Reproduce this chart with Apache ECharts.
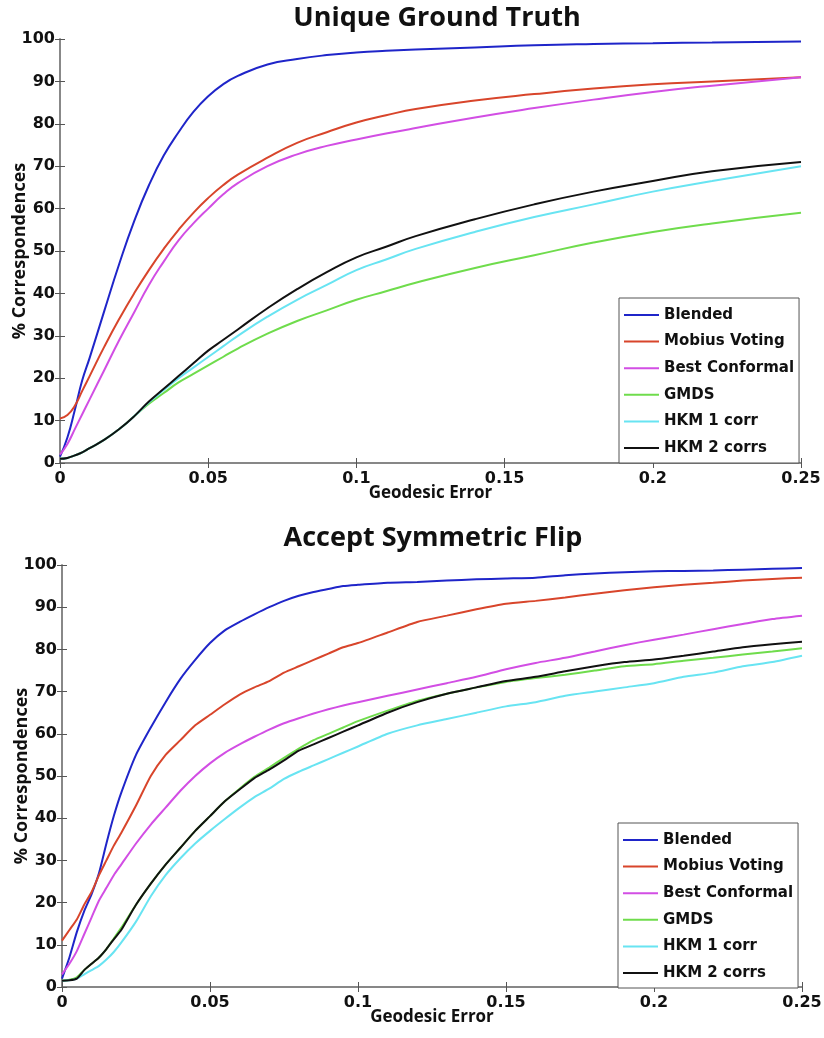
<!DOCTYPE html>
<html>
<head>
<meta charset="utf-8">
<script src="https://cdn.jsdelivr.net/npm/echarts@6/dist/echarts.min.js"></script>
<style>
html,body{margin:0;padding:0;background:#fff;}
#chart{width:824px;height:1038px;}
</style>
</head>
<body>
<div id="chart"></div>
<script>
// ---------- data ----------
const seriesNames = ['Blended', 'Mobius Voting', 'Best Conformal', 'GMDS', 'HKM 1 corr', 'HKM 2 corrs'];
const xTickLabels = ['0', '0.05', '0.1', '0.15', '0.2', '0.25'];
const yTickLabels = ['0','10','20','30','40','50','60','70','80','90','100'];

// Top panel: Unique Ground Truth
const topX = [0,0.0025,0.005,0.0075,0.01,0.015,0.02,0.025,0.03,0.035,0.04,0.045,0.05,0.055,0.06,0.07,0.08,0.09,0.1,0.11,0.12,0.14,0.16,0.18,0.2,0.22,0.25];
const topBlended  = [1.5,6,12.5,19.5,24.8,36,47,57,65.5,72.5,78,82.8,86.5,89.3,91.3,94,95.3,96.2,96.8,97.2,97.5,98,98.5,98.8,99,99.2,99.4];
const topMobius   = [10.5,11.3,13.5,17,20.5,27.5,34,40,45.5,50.5,55,59,62.5,65.5,68,72,75.5,78,80.3,82,83.5,85.5,87,88.3,89.3,90,91];
const topBest     = [2,4.5,8,11.5,15,22,29,35.5,42,47.5,52.5,56.5,60,63.3,66,70,72.8,74.8,76.3,77.7,79,81.5,83.7,85.7,87.5,89,91];
const topGMDS     = [1,1.2,1.8,2.5,3.5,5.5,8,11,14,16.5,19,21,23,25,27,30.5,33.5,36,38.5,40.5,42.5,46,49,52,54.5,56.5,59];
const topHKM1     = [1,1.2,1.8,2.5,3.5,5.5,8,11,14.3,17.2,20,22.5,25,27.5,30,34.5,38.5,42,45.5,48,50.5,54.5,58,61,64,66.5,70];
const topHKM2     = [1,1.2,1.8,2.5,3.5,5.5,8,11,14.5,17.5,20.5,23.5,26.5,29,31.5,36.5,41,45,48.5,51,53.5,57.5,61,64,66.5,68.8,71];

// Bottom panel: Accept Symmetric Flip
const botX = [0,0.0025,0.005,0.0075,0.01,0.0125,0.015,0.0175,0.02,0.025,0.03,0.035,0.04,0.045,0.05,0.055,0.06,0.065,0.07,0.075,0.08,0.085,0.09,0.095,0.1,0.11,0.12,0.13,0.14,0.15,0.16,0.17,0.18,0.19,0.2,0.21,0.22,0.23,0.24,0.25];
const botBlended = [2,7,13,18,22,27,34,40.5,46,55,61.5,67.5,73,77.5,81.5,84.5,86.5,88.3,90,91.5,92.7,93.6,94.3,95,95.3,95.8,96,96.3,96.6,96.8,97,97.6,98,98.3,98.5,98.6,98.7,98.9,99.1,99.3];
const botMobius  = [11,13.5,16,19.5,22.5,26.5,30,33.5,36.5,43,50,55,58.5,62,64.5,67,69.3,71,72.5,74.5,76,77.5,79,80.5,81.5,84,86.5,88,89.5,90.8,91.5,92.3,93.2,94,94.7,95.3,95.8,96.3,96.7,97];
const botBest    = [3,5.5,8.5,12.5,16.5,20.5,23.5,26.5,29,34,38.5,42.5,46.5,50,53,55.5,57.5,59.3,61,62.5,63.7,64.8,65.8,66.7,67.5,69,70.5,72,73.5,75.3,76.8,78,79.5,81,82.3,83.5,84.8,86,87.2,88];
const botGMDS    = [1.5,1.7,2.3,4,5.5,7,9,11.5,14,19.5,24.5,29,33,37,40.5,44,47,49.8,52,54.3,56.5,58.5,60,61.5,63,65.5,67.8,69.5,71,72.3,73.2,74,75,76,76.5,77.3,78,78.8,79.5,80.3];
const botHKM1    = [1.5,1.6,2,3,4,5,6.5,8.3,10.5,15.5,21.5,26.5,30.5,34,37,39.8,42.5,45,47,49.3,51,52.5,54,55.5,57,60,62,63.5,65,66.5,67.5,69,70,71,72,73.5,74.5,76,77,78.5];
const botHKM2    = [1.5,1.6,2,4,5.5,7,9,11.3,13.5,19.5,24.5,29,33,37,40.5,44,46.8,49.5,51.5,53.7,56,57.5,59,60.5,62,65,67.5,69.5,71,72.5,73.5,74.8,76,77,77.6,78.5,79.5,80.5,81.2,81.8];

const colors = ['#1f25c9', '#d8452b', '#d24ee4', '#6fdc4c', '#68e4f2', '#111111'];

// ---------- chart ----------
const chart = echarts.init(document.getElementById('chart'), null, {renderer: 'canvas'});
const tickFont = {fontFamily: 'DejaVu Sans', fontWeight: 'bold', fontSize: 16, color: '#111'};
const nameFont = {fontFamily: 'Open Sans', fontWeight: 'bold', fontSize: 17, color: '#111'};
const axisCol = '#808080';

const grids = [
  {left: 60, top: 39, width: 741, height: 424, outerBoundsMode: 'none'},
  {left: 62, top: 565, width: 740, height: 422, outerBoundsMode: 'none'}
];

function xLabel(v) { return xTickLabels[Math.round(v / 0.05)]; }
function yLabel(v) { return yTickLabels[Math.round(v / 10)]; }

const xAxes = [], yAxes = [];
for (let g = 0; g < 2; g++) {
  xAxes.push({
    type: 'value', gridIndex: g, min: 0, max: 0.25, interval: 0.05, position: 'bottom',
    name: 'Geodesic Error', nameLocation: 'middle', nameGap: 22, nameMoveOverlap: false,
    nameTextStyle: nameFont,
    axisLine: {show: true, lineStyle: {color: axisCol, width: 1.5}},
    axisTick: {show: true, inside: true, length: 5, lineStyle: {color: '#555'}},
    axisLabel: Object.assign({margin: 8, formatter: xLabel}, tickFont),
    splitLine: {show: false}
  });
  xAxes.push({
    type: 'value', gridIndex: g, min: 0, max: 0.25, interval: 0.05, position: 'top',
    axisLine: {show: true, lineStyle: {color: axisCol, width: 1.5}},
    axisTick: {show: true, inside: true, length: 5, lineStyle: {color: '#555'}},
    axisLabel: {show: false}, splitLine: {show: false}
  });
  yAxes.push({
    type: 'value', gridIndex: g, min: 0, max: 100, interval: 10, position: 'left',
    name: '% Correspondences', nameLocation: 'middle', nameGap: 31, nameRotate: 90, nameMoveOverlap: false,
    nameTextStyle: Object.assign({}, nameFont, {fontSize: 18}),
    axisLine: {show: true, lineStyle: {color: axisCol, width: 1.5}},
    axisTick: {show: true, inside: true, length: 5, lineStyle: {color: '#555'}},
    axisLabel: Object.assign({margin: 5, formatter: yLabel}, tickFont),
    splitLine: {show: false}
  });
  yAxes.push({
    type: 'value', gridIndex: g, min: 0, max: 100, interval: 10, position: 'right',
    axisLine: {show: true, lineStyle: {color: axisCol, width: 1.5}},
    axisTick: {show: true, inside: true, length: 5, lineStyle: {color: '#555'}},
    axisLabel: {show: false}, splitLine: {show: false}
  });
}

function pairs(xs, ys) { return xs.map((x, i) => [x, ys[i]]); }

const topSets = [topBlended, topMobius, topBest, topGMDS, topHKM1, topHKM2];
const botSets = [botBlended, botMobius, botBest, botGMDS, botHKM1, botHKM2];
const series = [];
[[topX, topSets, 0], [botX, botSets, 1]].forEach(([xs, sets, g]) => {
  sets.forEach((ys, i) => {
    series.push({
      name: seriesNames[i], type: 'line',
      xAxisIndex: g * 2, yAxisIndex: g * 2,
      data: pairs(xs, ys),
      showSymbol: false, symbol: 'none',
      smooth: g === 0 ? 0.5 : 0.2,
      lineStyle: {color: colors[i], width: 2},
      itemStyle: {color: colors[i]},
      z: 2 + i
    });
  });
});

function legendAt(left, top) {
  return {
    data: seriesNames, orient: 'vertical', left: left, top: top,
    itemWidth: 35, itemHeight: 14, itemGap: 8.6,
    padding: [8, 5, 6, 5],
    backgroundColor: '#fff', borderColor: '#555', borderWidth: 1,
    icon: 'path://M0,6 L35,6 L35,8 L0,8 Z',
    textStyle: {fontFamily: 'DejaVu Sans', fontWeight: 'bold', fontSize: 15, color: '#111', lineHeight: 18},
    selectedMode: false
  };
}

chart.setOption({
  animation: false,
  backgroundColor: '#fff',
  grid: grids,
  xAxis: xAxes,
  yAxis: yAxes,
  legend: [legendAt(619, 298), legendAt(618, 823)],
  graphic: [
    {type: 'text', x: 437, y: 18, style: {text: 'Unique Ground Truth', fontFamily: 'Open Sans', fontWeight: 'bold', fontSize: 27, fill: '#111', textAlign: 'center', textVerticalAlign: 'middle'}},
    {type: 'text', x: 433, y: 538, style: {text: 'Accept Symmetric Flip', fontFamily: 'Open Sans', fontWeight: 'bold', fontSize: 27, fill: '#111', textAlign: 'center', textVerticalAlign: 'middle'}}
  ],
  series: series
});
</script>
</body>
</html>
